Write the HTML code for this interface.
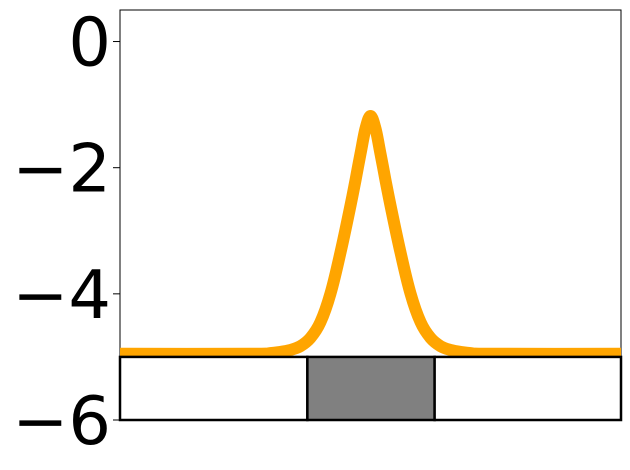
<!DOCTYPE html>
<html><head><meta charset="utf-8"><style>
body{margin:0;background:#fff;width:630px;height:470px;overflow:hidden}
svg{display:block}
text{font-family:"DejaVu Sans","Liberation Sans",sans-serif}
</style></head><body>
<svg id="chart" width="630" height="470"></svg>
<script>
const xs=[-25,-12,-10,-9,-8,-7,-6,-5,-4,-3,-2,-1.5,-1,-0.5,0,0.5,1,1.5,2,3,4,5,6,7,8,9,10,12,25];
const ys=[-4.95,-4.95,-4.94,-4.92,-4.89,-4.83,-4.7,-4.45,-4.0,-3.35,-2.6,-2.2,-1.78,-1.38,-1.18,-1.38,-1.78,-2.2,-2.6,-3.35,-4.0,-4.45,-4.7,-4.83,-4.89,-4.92,-4.94,-4.95,-4.95];
const yTicks=[0,-2,-4,-6];
const yTickLabels=["0","−2","−4","−6"];
const boxStarts=[-25,-6.3,6.4];
const boxEnds=[-6.3,6.4,25];
const boxFills=["#ffffff","#808080","#ffffff"];
const boxLow=-6, boxHigh=-5;
const L=120,R=621,T=10,B=420,xmin=-25,xmax=25,ymin=-6,ymax=0.5;
const sx=v=>L+(v-xmin)/(xmax-xmin)*(R-L);
const sy=v=>B-(v-ymin)/(ymax-ymin)*(B-T);
const svg=document.getElementById('chart');const NS='http://www.w3.org/2000/svg';
function mk(t,a,p){const e=document.createElementNS(NS,t);for(const k in a)e.setAttribute(k,a[k]);(p||svg).appendChild(e);return e;}
const frame=mk('rect',{x:L,y:T,width:R-L,height:B-T,fill:'none',stroke:'#000','stroke-width':1});


yTicks.forEach((v,i)=>{
 const t=mk('line',{x1:L-7,x2:L,y1:sy(v),y2:sy(v),stroke:'#000','stroke-width':1});
 
 
 const l=mk('text',{x:L-9,y:sy(v)+24,'text-anchor':'end','font-size':67,fill:'#000'});
 l.textContent=yTickLabels[i];
 
 
});
const P=xs.map((x,i)=>[sx(x),sy(ys[i])]);
let d='M'+P[0][0]+','+P[0][1];
for(let i=0;i<P.length-1;i++){
 const p0=P[i-1]||P[i],p1=P[i],p2=P[i+1],p3=P[i+2]||P[i+1];
 const c1=[p1[0]+(p2[0]-p0[0])/6,p1[1]+(p2[1]-p0[1])/6];
 const c2=[p2[0]-(p3[0]-p1[0])/6,p2[1]-(p3[1]-p1[1])/6];
 d+=` C${c1[0].toFixed(1)},${c1[1].toFixed(1)} ${c2[0].toFixed(1)},${c2[1].toFixed(1)} ${p2[0].toFixed(1)},${p2[1].toFixed(1)}`;
}
const c=mk('path',{d:d,fill:'none',stroke:'#ffa500','stroke-width':12,'stroke-linejoin':'round','stroke-linecap':'butt'});


boxStarts.forEach((s,i)=>{
 const r=mk('rect',{x:sx(s),y:sy(boxHigh),width:sx(boxEnds[i])-sx(s),height:sy(boxLow)-sy(boxHigh),fill:boxFills[i],stroke:'#000','stroke-width':2.5});
 
 
});
</script>
</body></html>
